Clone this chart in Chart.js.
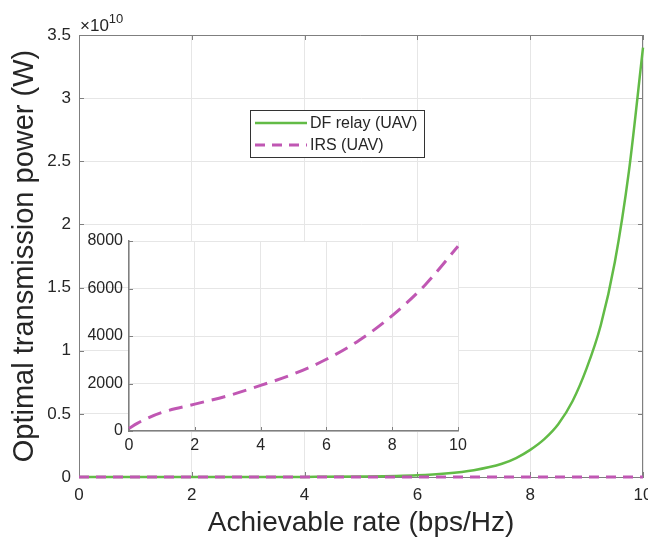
<!DOCTYPE html>
<html>
<head>
<meta charset="utf-8">
<title>Optimal transmission power</title>
<script src="https://cdn.jsdelivr.net/npm/chart.js@4.4.1/dist/chart.umd.min.js"></script>
<style>
  body { margin: 0; background: #fff; }
  #contenedor { position: relative; width: 648px; height: 540px; }
  #principal { position: absolute; left: 0; top: 0; width: 648px; height: 540px; }
  #inserto { position: absolute; left: 80px; top: 225px; width: 390px; height: 235px; }
</style>
</head>
<body>
<div id="contenedor">
  <div id="principal"><canvas id="graficoPrincipal"></canvas></div>
  <div id="inserto"><canvas id="graficoInserto"></canvas></div>
</div>
<script>
// Curva DF relay (UAV): tasa (bps/Hz) y potencia (W)
const tasaDF = [0, 1, 2, 3, 4, 5, 6, 6.5, 7, 7.5, 7.75, 8, 8.25, 8.5, 8.75, 9, 9.25, 9.5, 9.75, 10];
const potenciaDF = [0, 3e4, 5e5, 2e6, 8e6, 3.3e7, 1.3e8, 2.7e8, 5.4e8, 1.05e9, 1.5e9, 2.15e9, 3.0e9, 4.2e9, 6.0e9, 8.6e9, 1.2e10, 1.7e10, 2.42e10, 3.4e10];

// Curva IRS (UAV)
const tasaIRS = [0, 0.25, 0.5, 1, 2, 3, 4, 5, 6, 7, 8, 9, 10];
const potenciaIRS = [110, 320, 500, 780, 1130, 1480, 1920, 2400, 3020, 3820, 4860, 6150, 7780];

// Marcas de los ejes
const ticksTasa = [0, 2, 4, 6, 8, 10];
const ticksPotencia = [0, 0.5, 1, 1.5, 2, 2.5, 3, 3.5];   // x 10^10
const ticksInserto = [0, 2000, 4000, 6000, 8000];

const COLOR_DF = '#62bb46';
const COLOR_IRS = '#c057b3';
const COLOR_TEXTO = '#262626';
const COLOR_EJE = '#7f7f7f';
const COLOR_REJILLA = '#e6e6e6';
const FUENTE = '"Liberation Sans", Arial, sans-serif';

Chart.defaults.font.family = FUENTE;
Chart.defaults.color = COLOR_TEXTO;

const puntos = (xs, ys) => xs.map((x, i) => ({ x: x, y: ys[i] }));

// marcas cortas hacia dentro del area (estilo matlab)
function marcasInternas(chart, lados, largo) {
    const ctx = chart.ctx;
    const a = chart.chartArea;
    const sx = chart.scales.x, sy = chart.scales.y;
    ctx.save();
    ctx.strokeStyle = COLOR_EJE;
    ctx.lineWidth = 1;
    ctx.beginPath();
    sx.ticks.forEach(t => {
        const px = Math.round(sx.getPixelForValue(t.value)) + 0.5;
        if (lados.includes('abajo')) { ctx.moveTo(px, a.bottom); ctx.lineTo(px, a.bottom - largo); }
        if (lados.includes('arriba')) { ctx.moveTo(px, a.top); ctx.lineTo(px, a.top + largo); }
    });
    sy.ticks.forEach(t => {
        const py = Math.round(sy.getPixelForValue(t.value)) + 0.5;
        if (lados.includes('izq')) { ctx.moveTo(a.left, py); ctx.lineTo(a.left + largo, py); }
        if (lados.includes('der')) { ctx.moveTo(a.right, py); ctx.lineTo(a.right - largo, py); }
    });
    ctx.stroke();
    ctx.restore();
}

// Caja completa, marcas y leyenda del grafico principal
const marcoPrincipal = {
    id: 'marcoPrincipal',
    beforeDatasetsDraw(chart) {
        const ctx = chart.ctx;
        const a = chart.chartArea;
        ctx.save();
        ctx.strokeStyle = COLOR_EJE;
        ctx.lineWidth = 1;
        ctx.beginPath();
        ctx.moveTo(a.left, a.top + 0.5);
        ctx.lineTo(a.right - 0.5, a.top + 0.5);
        ctx.lineTo(a.right - 0.5, a.bottom);
        ctx.stroke();
        ctx.restore();
        marcasInternas(chart, ['abajo', 'arriba', 'izq', 'der'], 5);
    },
    afterDraw(chart) {
        const ctx = chart.ctx;
        const a = chart.chartArea;
        ctx.save();

        // exponente del eje y
        ctx.fillStyle = COLOR_TEXTO;
        ctx.textBaseline = 'alphabetic';
        ctx.textAlign = 'left';
        ctx.font = '17px ' + FUENTE;
        ctx.fillText('\u00d710', a.left + 1, 31);
        const ancho = ctx.measureText('\u00d710').width;
        ctx.font = '13px ' + FUENTE;
        ctx.fillText('10', a.left + 1 + ancho, 23);

        // leyenda
        const caja = { x: 250.5, y: 110.5, w: 174, h: 47 };
        ctx.fillStyle = '#ffffff';
        ctx.fillRect(caja.x, caja.y, caja.w, caja.h);
        ctx.strokeStyle = '#333333';
        ctx.lineWidth = 1;
        ctx.strokeRect(caja.x, caja.y, caja.w, caja.h);

        const filas = [
            { ds: chart.data.datasets[1], y: 123 },
            { ds: chart.data.datasets[0], y: 145 }
        ];
        filas.forEach(f => {
            ctx.beginPath();
            ctx.strokeStyle = f.ds.borderColor;
            ctx.lineWidth = f.ds.borderWidth;
            ctx.setLineDash(f.ds.borderDash || []);
            ctx.moveTo(255, f.y);
            ctx.lineTo(307, f.y);
            ctx.stroke();
            ctx.setLineDash([]);
            ctx.fillStyle = COLOR_TEXTO;
            ctx.font = '16px ' + FUENTE;
            ctx.textBaseline = 'middle';
            ctx.fillText(f.ds.label, 310, f.y + 1);
        });
        ctx.restore();
    }
};

// Fondo blanco y marcas del grafico insertado
const marcoInserto = {
    id: 'marcoInserto',
    beforeDraw(chart) {
        const a = chart.chartArea;
        chart.ctx.save();
        chart.ctx.fillStyle = '#ffffff';
        chart.ctx.fillRect(a.left, a.top, a.right - a.left, a.bottom - a.top);
        chart.ctx.restore();
    },
    beforeDatasetsDraw(chart) {
        marcasInternas(chart, ['abajo', 'izq'], 4);
    }
};

// 1. Grafico principal
new Chart(document.getElementById('graficoPrincipal'), {
    type: 'line',
    data: {
        datasets: [{
            label: 'IRS (UAV)',
            data: puntos(tasaIRS, potenciaIRS),
            borderColor: COLOR_IRS,
            borderWidth: 3,
            borderDash: [10, 7],
            pointRadius: 0,
            cubicInterpolationMode: 'monotone',
            clip: false,
            order: 0
        }, {
            label: 'DF relay (UAV)',
            data: puntos(tasaDF, potenciaDF),
            borderColor: COLOR_DF,
            borderWidth: 2.5,
            pointRadius: 0,
            cubicInterpolationMode: 'monotone',
            clip: false,
            order: 1
        }]
    },
    options: {
        responsive: true,
        maintainAspectRatio: false,
        animation: false,
        layout: { padding: { left: 0, right: 5, top: 35, bottom: 0 } },
        plugins: { legend: { display: false }, tooltip: { enabled: false } },
        scales: {
            x: {
                type: 'linear', min: 0, max: 10,
                afterBuildTicks: s => { s.ticks = ticksTasa.map(v => ({ value: v })); },
                afterFit: s => { s.height = 63; s.paddingLeft = 0; s.paddingRight = 0; },
                ticks: { padding: 8, font: { size: 17 }, maxRotation: 0, autoSkip: false },
                grid: { color: COLOR_REJILLA, drawTicks: false },
                border: { color: COLOR_EJE, width: 1 },
                title: { display: true, text: 'Achievable rate (bps/Hz)', font: { size: 28 }, padding: { top: 0, bottom: 0 } }
            },
            y: {
                type: 'linear', min: 0, max: 3.5e10,
                afterBuildTicks: s => { s.ticks = ticksPotencia.map(v => ({ value: v * 1e10 })); },
                afterFit: s => { s.width = 79; s.paddingTop = 0; s.paddingBottom = 0; },
                ticks: {
                    padding: 8, font: { size: 17 }, autoSkip: false,
                    callback: v => String(Math.round(v / 1e9) / 10)
                },
                grid: { color: COLOR_REJILLA, drawTicks: false },
                border: { color: COLOR_EJE, width: 1 },
                title: { display: true, text: 'Optimal transmission power (W)', font: { size: 29 }, padding: { top: 8, bottom: 0 } }
            }
        }
    },
    plugins: [marcoPrincipal]
});

// 2. Grafico insertado (solo IRS)
new Chart(document.getElementById('graficoInserto'), {
    type: 'line',
    data: {
        datasets: [{
            label: 'IRS (UAV)',
            data: puntos(tasaIRS, potenciaIRS),
            borderColor: COLOR_IRS,
            borderWidth: 3,
            borderDash: [14, 8],
            pointRadius: 0,
            cubicInterpolationMode: 'monotone',
            clip: false
        }]
    },
    options: {
        responsive: true,
        maintainAspectRatio: false,
        animation: false,
        layout: { padding: { left: 0, right: 12, top: 16, bottom: 0 } },
        plugins: { legend: { display: false }, tooltip: { enabled: false } },
        scales: {
            x: {
                type: 'linear', min: 0, max: 10,
                afterBuildTicks: s => { s.ticks = ticksTasa.map(v => ({ value: v })); },
                afterFit: s => { s.height = 29; s.paddingLeft = 0; s.paddingRight = 0; },
                ticks: { padding: 5, font: { size: 16 }, maxRotation: 0, autoSkip: false },
                grid: { color: COLOR_REJILLA, drawTicks: false },
                border: { color: COLOR_EJE, width: 1.5 }
            },
            y: {
                type: 'linear', min: 0, max: 8000,
                afterBuildTicks: s => { s.ticks = ticksInserto.map(v => ({ value: v })); },
                afterFit: s => { s.width = 49; s.paddingTop = 0; s.paddingBottom = 0; },
                ticks: { padding: 6, font: { size: 16 }, autoSkip: false, callback: v => String(v) },
                grid: { color: COLOR_REJILLA, drawTicks: false },
                border: { color: COLOR_EJE, width: 1.5 }
            }
        }
    },
    plugins: [marcoInserto]
});
</script>
</body>
</html>
